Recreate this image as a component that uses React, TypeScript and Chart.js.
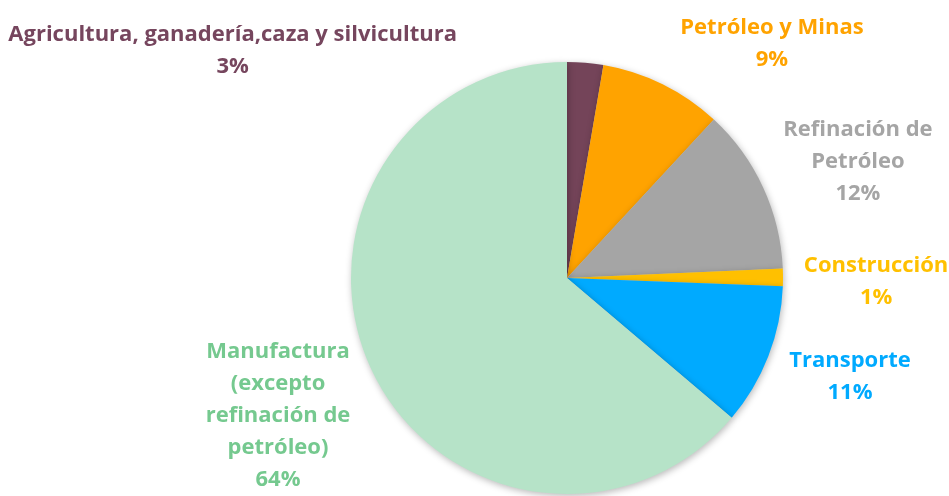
import React, { useEffect, useRef } from "react";
import { Chart, registerables } from "chart.js";

Chart.register(...registerables);

const categories: string[][] = [
  ["Agricultura, ganadería,caza y silvicultura"],
  ["Petróleo y Minas"],
  ["Refinación de", "Petróleo"],
  ["Construcción"],
  ["Transporte"],
  ["Manufactura", "(excepto", "refinación de", "petróleo)"],
];
const shares: number[] = [2.7, 9.2, 12.4, 1.3, 10.6, 63.8];
const sliceColors: string[] = ["#744459", "#FFA300", "#A5A5A5", "#FFC000", "#00AAFF", "#B6E3C8"];
const labelColors: string[] = ["#76465E", "#FFA300", "#A5A5A5", "#FFC000", "#00AAFF", "#75C98F"];
// label block centres, in units of the pie radius, relative to the pie centre
const labelOffsets: [number, number][] = [
  [-1.548, -1.05],
  [0.949, -1.085],
  [1.347, -0.54],
  [1.431, 0.015],
  [1.31, 0.455],
  [-1.338, 0.638],
];

const FONT = "bold 22px 'Open Sans', Lato, sans-serif";
const LINE_H = 32;

const shadowPlugin = {
  id: "pieShadow",
  beforeDatasetsDraw(chart: any) {
    const ctx = chart.ctx;
    ctx.save();
    ctx.shadowColor = "rgba(0,0,0,0.28)";
    ctx.shadowBlur = 7;
    ctx.shadowOffsetX = 1;
    ctx.shadowOffsetY = 2;
  },
  afterDatasetsDraw(chart: any) {
    chart.ctx.restore();
  },
};

const labelPlugin = {
  id: "outerLabels",
  afterDraw(chart: any) {
    const ctx = chart.ctx;
    const meta = chart.getDatasetMeta(0);
    const data = chart.data.datasets[0].data as number[];
    const total = data.reduce((a, b) => a + b, 0);
    ctx.save();
    ctx.font = FONT;
    ctx.textAlign = "center";
    ctx.textBaseline = "middle";
    meta.data.forEach((arc: any, i: number) => {
      const { x, y, outerRadius } = arc.getProps(["x", "y", "outerRadius"], true);
      const lines = [...categories[i], Math.round((data[i] / total) * 100) + "%"];
      const cx = x + labelOffsets[i][0] * outerRadius;
      const cy = y + labelOffsets[i][1] * outerRadius;
      const top = cy - ((lines.length - 1) * LINE_H) / 2;
      ctx.fillStyle = labelColors[i];
      lines.forEach((t, k) => ctx.fillText(t, cx, top + k * LINE_H));
    });
    ctx.restore();
  },
};

export default function App() {
  const ref = useRef<HTMLCanvasElement>(null);
  useEffect(() => {
    document.body.style.margin = "0";
    const chart = new Chart(ref.current!, {
      type: "pie",
      data: {
        labels: categories.map((c) => c.join(" ")),
        datasets: [
          {
            data: shares,
            backgroundColor: sliceColors,
            borderWidth: 0,
          },
        ],
      },
      options: {
        animation: false,
        responsive: false,
        layout: { padding: { left: 351, right: 166, top: 62, bottom: 2 } },
        plugins: { legend: { display: false }, tooltip: { enabled: false } },
      },
      plugins: [shadowPlugin, labelPlugin],
    });
    return () => chart.destroy();
  }, []);
  return (
    <div style={{ width: 949, height: 496, background: "#fff" }}>
      <canvas ref={ref} width={949} height={496} />
    </div>
  );
}
